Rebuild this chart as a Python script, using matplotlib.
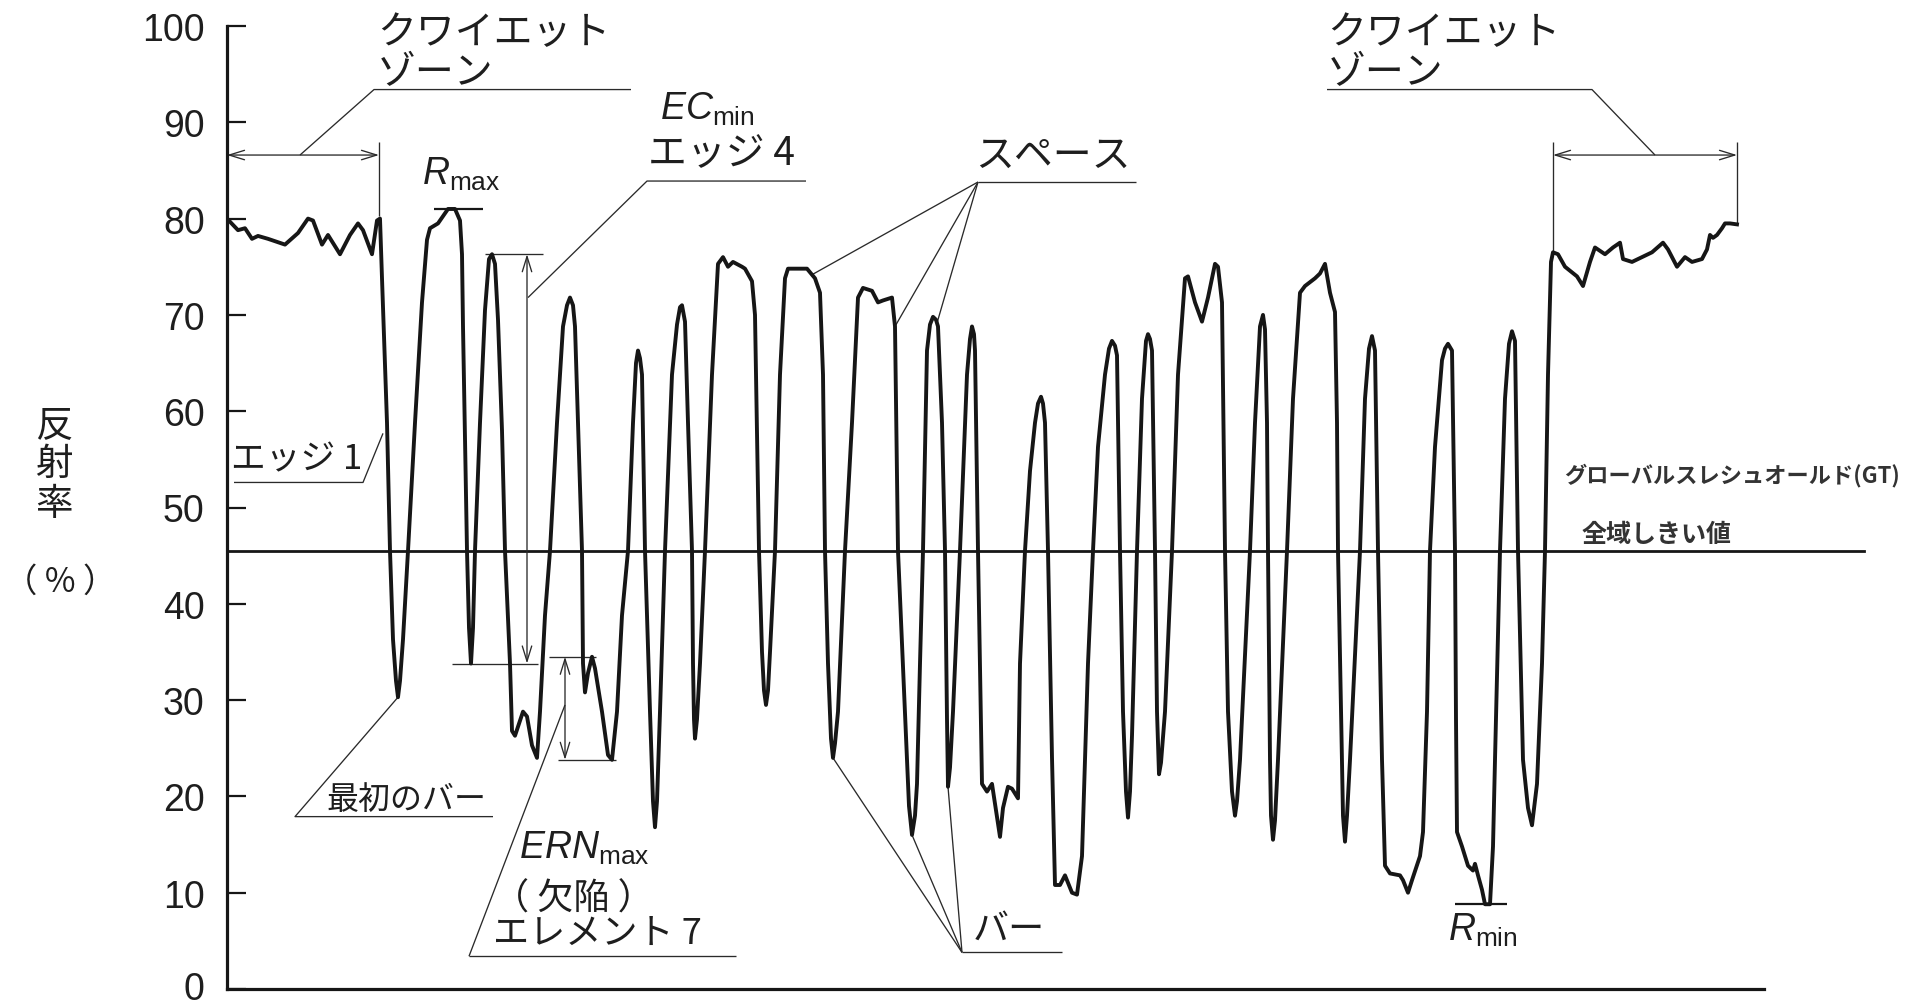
import matplotlib
matplotlib.use("Agg")
import matplotlib.pyplot as plt
from matplotlib.patches import FancyArrowPatch, ArrowStyle
from matplotlib.transforms import ScaledTranslation
import numpy as np

plt.rcParams['font.family'] = ['Liberation Sans', 'DejaVu Sans']
plt.rcParams['mathtext.fontset'] = 'custom'
plt.rcParams['mathtext.rm'] = 'Liberation Sans'
plt.rcParams['mathtext.it'] = 'Liberation Sans:italic'
JP = ['Noto Sans CJK JP', 'DejaVu Sans']

# Scan profile: position along the scan line and measured reflectance (%)
position = [
    0, 11, 18, 25, 31, 41, 58, 71, 81, 86, 95, 101, 113, 123, 131, 136, 145, 150, 153,
    155, 160, 163, 166, 169, 171, 173, 176, 181, 188, 195, 200, 203, 211, 221, 228, 233,
    235, 236, 240, 242, 244, 246, 248, 253, 258, 262, 265, 268, 271, 275, 278, 283, 285,
    288, 296, 300, 305, 310, 313, 318, 323, 330, 336, 340, 343, 346, 348, 351, 355, 356,
    358, 361, 365, 368, 375, 381, 385, 390, 395, 401, 406, 409, 411, 413, 415, 418, 423,
    426, 428, 430, 433, 438, 445, 450, 453, 455, 458, 461, 465, 466, 467, 468, 470, 473,
    478, 485, 491, 496, 501, 506, 515, 518, 525, 528, 530, 532, 535, 537, 539, 541, 543,
    548, 553, 558, 561, 580, 588, 593, 596, 598, 601, 604, 606, 608, 611, 618, 625, 631,
    636, 645, 651, 656, 665, 668, 671, 678, 682, 685, 688, 690, 693, 696, 700, 703, 706,
    709, 711, 715, 718, 720, 721, 723, 726, 733, 740, 743, 745, 747, 748, 751, 755, 760,
    765, 773, 776, 781, 785, 791, 793, 798, 803, 808, 811, 814, 816, 818, 821, 825, 828,
    833, 838, 845, 850, 855, 861, 866, 871, 878, 882, 885, 888, 890, 893, 896, 899, 901,
    903, 905, 910, 915, 919, 921, 923, 925, 928, 930, 932, 934, 938, 945, 951, 958, 961,
    968, 975, 981, 988, 991, 995, 998, 1001, 1005, 1008, 1010, 1013, 1023, 1028, 1033,
    1036, 1038, 1040, 1041, 1043, 1044, 1046, 1048, 1051, 1060, 1066, 1073, 1078, 1088,
    1093, 1098, 1103, 1108, 1110, 1111, 1115, 1116, 1118, 1120, 1123, 1133, 1138, 1142,
    1145, 1148, 1151, 1155, 1158, 1163, 1173, 1176, 1181, 1185, 1193, 1196, 1200, 1203,
    1208, 1215, 1218, 1221, 1225, 1228, 1229, 1230, 1235, 1241, 1246, 1248, 1251, 1255,
    1258, 1263, 1266, 1268, 1273, 1278, 1282, 1285, 1288, 1291, 1296, 1301, 1305, 1310,
    1315, 1318, 1321, 1324, 1326, 1331, 1338, 1350, 1356, 1363, 1368, 1378, 1386, 1393,
    1396, 1405, 1415, 1425, 1436, 1441, 1450, 1458, 1465, 1475, 1480, 1483, 1486, 1490,
    1495, 1498, 1503, 1510,
]
reflectance = [
    80.0, 78.8, 79.0, 77.9, 78.2, 77.9, 77.3, 78.5, 80.0, 79.8, 77.3, 78.3, 76.3, 78.3, 79.5, 78.8, 76.3, 79.8, 80.0,
    73.8, 58.8, 45.5, 36.3, 32.0, 30.3, 32.0, 36.3, 45.5, 58.8, 71.3, 77.8, 79.0, 79.5, 81.0, 81.0, 79.8,
    76.3, 68.8, 45.5, 37.5, 33.8, 37.5, 45.5, 58.8, 70.5, 75.8, 76.3, 75.3, 69.5, 58.0, 45.5, 33.8, 26.8,
    26.3, 28.8, 28.3, 25.3, 24.0, 28.8, 38.8, 45.5, 58.8, 68.8, 71.0, 71.8, 71.0, 68.8, 58.8, 45.5, 33.8,
    30.8, 32.8, 34.5, 33.3, 28.8, 24.3, 23.8, 28.8, 38.8, 45.5, 58.8, 65.0, 66.3, 65.5, 63.8, 45.5, 28.8,
    19.5, 16.8, 19.5, 28.8, 45.5, 63.8, 69.0, 70.8, 71.0, 69.3, 58.8, 45.5, 33.8, 28.0, 26.0, 28.0, 33.8,
    45.5, 63.8, 75.3, 76.0, 75.0, 75.5, 75.0, 74.8, 73.5, 70.0, 58.0, 45.5, 35.0, 31.0, 29.5, 31.0, 35.0,
    45.5, 63.8, 73.8, 74.8, 74.8, 73.8, 72.3, 63.8, 45.5, 33.8, 26.0, 24.0, 25.5, 28.8, 45.5, 58.8, 71.8,
    72.8, 72.5, 71.3, 71.5, 71.8, 68.8, 45.5, 28.8, 19.0, 16.0, 18.0, 21.3, 33.8, 45.5, 66.3, 69.0, 69.8,
    69.5, 68.8, 58.8, 45.5, 28.0, 21.0, 23.0, 28.8, 45.5, 63.8, 67.5, 68.8, 68.0, 66.3, 45.5, 21.3, 20.5,
    21.3, 15.8, 18.8, 21.0, 20.8, 19.8, 33.8, 45.5, 53.8, 58.8, 60.8, 61.5, 60.8, 58.8, 45.5, 24.0, 10.8,
    10.8, 11.8, 10.0, 9.8, 13.8, 33.8, 45.5, 56.3, 63.8, 66.5, 67.3, 66.8, 65.8, 45.5, 28.8, 20.5, 17.8,
    20.5, 26.3, 45.5, 61.3, 67.3, 68.0, 67.5, 66.3, 45.5, 28.8, 22.3, 23.5, 28.8, 45.5, 63.8, 73.8, 74.0,
    71.3, 69.3, 71.8, 75.3, 75.0, 71.3, 45.5, 28.8, 20.5, 18.0, 19.5, 23.8, 45.5, 58.8, 68.8,
    70.0, 68.5, 58.8, 45.5, 23.8, 18.0, 15.5, 17.5, 23.8, 45.5, 61.3, 72.3, 73.0, 73.8,
    74.3, 75.3, 72.3, 70.3, 58.8, 45.5, 23.8, 18.0, 15.3, 18.0, 23.8, 45.5, 61.3, 66.5,
    67.8, 66.3, 45.5, 23.8, 12.8, 12.0, 11.8, 11.3, 10.0, 11.3, 13.8, 16.3, 28.8, 45.5,
    56.3, 65.3, 66.5, 67.0, 66.3, 45.5, 28.0, 16.3, 14.8, 12.8, 12.3, 13.0, 11.8, 10.3,
    8.8, 8.8, 14.8, 23.8, 45.5, 61.3, 67.0, 68.3, 67.3, 45.5, 23.8, 18.8, 17.0, 21.3,
    33.8, 45.5, 63.8, 75.5, 76.5, 76.3, 75.0, 74.0, 73.0, 75.5, 77.0, 76.3, 77.0, 77.5,
    75.8, 75.5, 76.0, 76.5, 77.5, 76.8, 75.0, 76.0, 75.5, 75.8, 76.8, 78.3, 78.0, 78.3,
    79.0, 79.5, 79.5, 79.4,
]

global_threshold = 45.5
ytick_values = [0, 10, 20, 30, 40, 50, 60, 70, 80, 90, 100]
ytick_labels = ['0', '10', '20', '30', '40', '50', '60', '70', '80', '90', '100']

pos = np.array(position, dtype=float)
refl = np.array(reflectance, dtype=float)


def level_at(p):
    return float(np.interp(p, pos, refl))


def peak_near(p, w=6):
    return float(refl[np.abs(pos - p) <= w].max())


def trough_near(p, w=6):
    return float(refl[np.abs(pos - p) <= w].min())


symbol_zone = (pos > 153) & (pos < 1326)
r_max = refl[symbol_zone].max()
r_min = refl[symbol_zone].min()

INK = '#161616'
THIN = '#2a2a2a'
TXT = '#1e1e1e'

W, H = 1921, 1003
fig = plt.figure(figsize=(W / 100, H / 100), dpi=100)
ax = fig.add_axes([227 / W, 13 / H, (W - 227) / W, 963 / H])
ax.set_xlim(0, W - 227)
ax.set_ylim(0, 100)

for side in ('top', 'right'):
    ax.spines[side].set_visible(False)
ax.spines['left'].set_bounds(0, 100)
ax.spines['bottom'].set_bounds(0, 1537)
for side in ('left', 'bottom'):
    ax.spines[side].set_linewidth(2.3)
    ax.spines[side].set_color(INK)

ax.set_xticks([])
ax.set_yticks(ytick_values)
ax.set_yticklabels(ytick_labels)
ax.tick_params(axis='y', direction='in', length=13.5, width=1.6, pad=16,
               labelsize=27, labelcolor=TXT, color=INK)
# keep the bottom "0" label inside the canvas
zero_label = ax.get_yticklabels()[0]
zero_label.set_transform(zero_label.get_transform()
                         + ScaledTranslation(0, 4 / 100, fig.dpi_scale_trans))

# reflectance profile and global threshold
ax.plot(pos, refl, color=INK, lw=2.8, solid_joinstyle='round', zorder=3)
ax.plot([0, 1637], [global_threshold, global_threshold], color=INK, lw=2.0,
        clip_on=False, zorder=2)


def seg(xs, ys, lw=0.95, color=THIN):
    ax.plot(xs, ys, color=color, lw=lw, clip_on=False, solid_capstyle='butt', zorder=2)


def dim_arrow(p0, p1):
    style = ArrowStyle('<->', head_length=0.55, head_width=0.17)
    ax.add_patch(FancyArrowPatch(p0, p1, arrowstyle=style, mutation_scale=20,
                                 lw=0.95, color=THIN, shrinkA=0, shrinkB=0,
                                 clip_on=False, zorder=2))


def jtext(x, y, s, size=28, **kw):
    kw.setdefault('ha', 'left')
    kw.setdefault('va', 'center')
    kw.setdefault('color', TXT)
    ax.text(x, y, s, fontsize=size, family=JP, **kw)


def mtext(x, y, s, size=27):
    ax.text(x, y, s, fontsize=size, color=TXT, va='baseline')


# left quiet zone
seg([152, 152], [88.0, 80.3])
dim_arrow((0, 86.6), (152, 86.6))
seg([73, 147, 404], [86.6, 93.4, 93.4])
jtext(150, 97.3, 'クワイエット\nゾーン', linespacing=1.02)

# right quiet zone
seg([1326, 1326], [88.0, level_at(1326)])
seg([1510, 1510], [88.0, level_at(1510)])
dim_arrow((1326, 86.6), (1510, 86.6))
seg([1100, 1365, 1428], [93.4, 93.4, 86.6])
jtext(1100, 97.3, 'クワイエット\nゾーン', linespacing=1.02)

# R max
seg([207, 256], [r_max, r_max], lw=1.6, color=INK)
mtext(195, 83.6, r'$R_{\mathrm{max}}$')

# EC min (edge 4)
ec_hi, ec_lo = peak_near(265), trough_near(244)
seg([258, 316], [ec_hi, ec_hi])
seg([225, 311], [ec_lo, ec_lo])
dim_arrow((300, ec_lo), (300, ec_hi))
seg([301, 420, 579], [71.8, 83.9, 83.9])
mtext(433, 90.4, r'$EC_{\mathrm{min}}$')
jtext(421, 86.8, 'エッジ 4')

# ERN max (defect, element 7)
ern_hi, ern_lo = peak_near(365, 3), trough_near(385, 3)
seg([322, 369], [ern_hi, ern_hi])
seg([331, 389], [ern_lo, ern_lo])
dim_arrow((338, ern_lo), (338, ern_hi))
seg([242, 338], [3.4, 29.5])
seg([242, 509], [3.4, 3.4])
mtext(292, 13.6, r'$ERN_{\mathrm{max}}$')
jtext(266, 7.6, '（ 欠陥 ）\nエレメント 7', size=26, linespacing=0.95)

# first bar
seg([171, 68, 266], [level_at(171), 17.9, 17.9])
jtext(99, 19.7, '最初のバー', size=23)

# edge 1
seg([7, 136, 156], [52.6, 52.6, 57.7])
jtext(4, 55.0, 'エッジ 1', size=25)

# spaces
seg([751, 909], [83.8, 83.8])
for p in (585, 668, 710):
    seg([751, p], [83.8, level_at(p)])
jtext(748, 86.6, 'スペース')

# bars
seg([735, 835], [3.8, 3.8])
for p in (606, 685, 721):
    seg([735, p], [3.8, trough_near(p, 2)])
jtext(746, 6.3, 'バー', size=26)

# R min
seg([1228, 1280], [r_min, r_min], lw=1.6, color=INK)
mtext(1221, 5.1, r'$R_{\mathrm{min}}$')

# threshold captions
jtext(1337, 53.4, 'グローバルスレシュオールド(GT)', size=16, weight='bold', color='#333333')
jtext(1355, 47.2, '全域しきい値', size=18, weight='bold', color='#333333')

# vertical axis title
fig.text(54 / W, 1 - 465 / H, '反\n射\n率', fontsize=27, family=JP, ha='center',
         va='center', multialignment='center', linespacing=1.0, color=TXT)
fig.text(60 / W, 1 - 582 / H, '（ % ）', fontsize=24, family=JP, ha='center', va='center',
         color=TXT)

fig.savefig('out.png', dpi=100, facecolor='white')
